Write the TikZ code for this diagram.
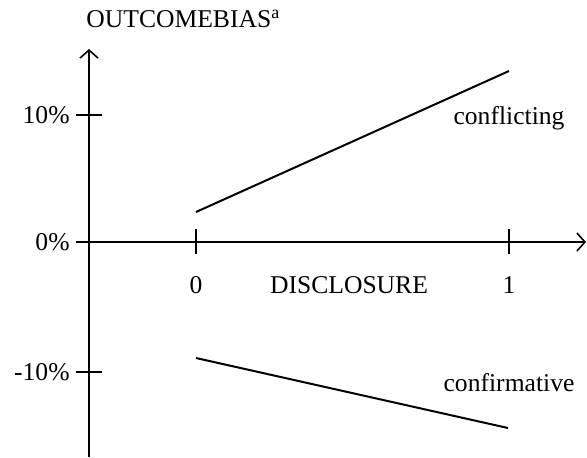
\documentclass[tikz,border=0pt]{standalone}
\usepackage{fontspec}
\setmainfont{Liberation Serif}
\usetikzlibrary{arrows.meta}

\begin{document}
\begin{tikzpicture}[x=0.5pt, y=-0.5pt, every node/.style={font=\fontsize{12.8pt}{15pt}\selectfont, inner sep=0pt}, axis/.style={line width=1pt, -{Straight Barb[length=4pt, width=9pt, line width=0.8pt]}}, tickmark/.style={line width=0.6pt}, trend/.style={line width=1pt}]
	\useasboundingbox (0,0) rectangle (587,457);
	% axes
	\coordinate (O) at (89,242);
	\coordinate (ybot) at (89,457);
	\coordinate (ytop) at (89,49);
	\coordinate (xleft) at (77,242);
	\coordinate (xright) at (586,242);
	\draw[axis] (ybot) -- (ytop);
	\draw[axis] (xleft) -- (xright);
	\node[anchor=west] (ylab) at (86,19) {OUTCOMEBIAS\textsuperscript{a}};
	% y ticks
	\foreach \y/\t/\n in {115/10\%/yp, 242/0\%/yz, 372/-10\%/ym} {
		\draw[tickmark] (76,\y) -- (102,\y);
		\node[anchor=east] (\n) at (70,\y) {\t};
	}
	% x ticks
	\foreach \x/\t/\n in {196/0/xz, 509/1/xo} {
		\draw[tickmark] (\x,229) -- (\x,254);
		\node (\n) at (\x,285) {\t};
	}
	\node (xlab) at (349,285) {DISCLOSURE};
	% outcome lines
	\coordinate (c1) at (196,212);
	\coordinate (c2) at (509,71);
	\coordinate (f1) at (196,358);
	\coordinate (f2) at (508,428);
	\draw[trend] (c1) -- (c2);
	\draw[trend] (f1) -- (f2);
	\node (conf) at (509,118) {conflicting};
	\node (confirm) at (509,383) {confirmative};
\end{tikzpicture}
\end{document}
